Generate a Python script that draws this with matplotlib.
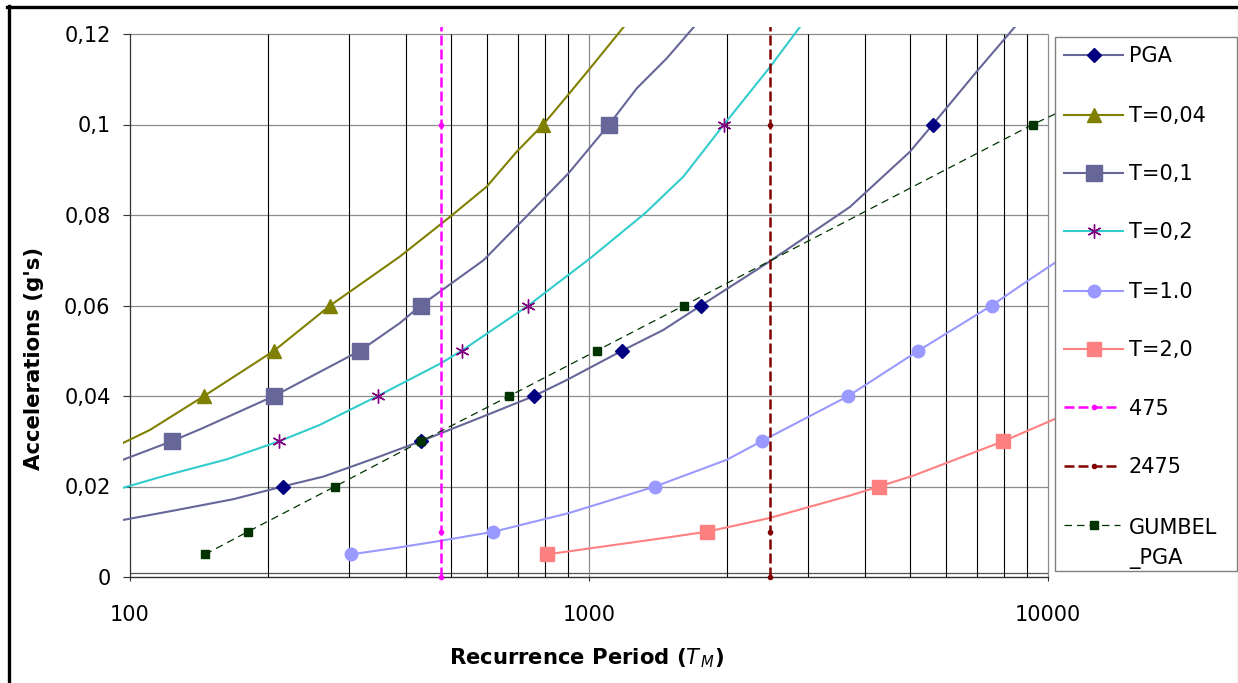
import matplotlib
matplotlib.use("Agg")
import matplotlib.pyplot as plt
from matplotlib.lines import Line2D
from matplotlib.patches import Rectangle
from matplotlib.ticker import FixedLocator, NullLocator

plt.rcParams['font.family'] = ['DejaVu Sans']
plt.rcParams['mathtext.fontset'] = 'dejavusans'

W, H = 1238, 683

# values (return period vs acceleration)
pga_x = [96.5, 126.4, 168, 215, 264, 345, 430, 599, 759, 893, 1180, 1452, 1754, 2438, 3704, 5004, 5610, 6993, 8472]
pga_y = [0.0126, 0.0148, 0.0172, 0.02, 0.0222, 0.0264, 0.03, 0.0358, 0.04, 0.0435, 0.05, 0.0546, 0.06, 0.0693,
         0.0818, 0.094, 0.1, 0.1117, 0.1216]
pga_marks = [3, 6, 8, 10, 12, 16]

t004_x = [96.5, 110.5, 145, 206, 273, 387, 498, 599, 696, 795, 893, 1005, 1191]
t004_y = [0.0296, 0.0325, 0.04, 0.05, 0.06, 0.0708, 0.0796, 0.0863, 0.094, 0.1, 0.1061, 0.1124, 0.1216]
t004_marks = [2, 3, 4, 9]

t01_x = [96.5, 123.3, 144, 206, 317, 387, 430, 589, 690, 902, 1106, 1271, 1476, 1694]
t01_y = [0.0259, 0.03, 0.0329, 0.04, 0.05, 0.0561, 0.06, 0.07, 0.0771, 0.0892, 0.1, 0.108, 0.1146, 0.1216]
t01_marks = [1, 3, 4, 6, 10]

t02_x = [96.5, 120.2, 162.4, 211.5, 259, 346.5, 475, 528, 737.6, 1005, 1325, 1606, 1968, 2466, 2883]
t02_y = [0.0197, 0.0225, 0.026, 0.03, 0.0336, 0.04, 0.0472, 0.05, 0.06, 0.0704, 0.0804, 0.0885, 0.1, 0.1124, 0.1216]
t02_marks = [3, 5, 7, 8, 12]

t10_x = [303, 387, 475, 619, 902, 1393, 1995, 2376, 3673, 5217, 7539, 8985, 10447]
t10_y = [0.005, 0.00656, 0.008, 0.01, 0.0141, 0.02, 0.0259, 0.03, 0.04, 0.05, 0.06, 0.0653, 0.0697]
t10_marks = [0, 3, 5, 7, 8, 9, 10]

t20_x = [811, 1428, 1805, 2466, 3704, 4283, 5089, 7990, 10447]
t20_y = [0.005, 0.0085, 0.01, 0.013, 0.018, 0.02, 0.0224, 0.03, 0.0351]
t20_marks = [0, 2, 5, 7]

rp475_x = [475, 475, 475, 475]
rp475_y = [0, 0.01, 0.1, 1.0]
rp2475_x = [2475, 2475, 2475, 2475]
rp2475_y = [0, 0.01, 0.1, 1.0]
rp_marks = [0, 1, 2]

gumbel_x = [145.7, 180.5, 279.6, 431, 670.6, 1039, 1611, 9261, 10447]
gumbel_y = [0.005, 0.01, 0.02, 0.03, 0.04, 0.05, 0.06, 0.1, 0.1025]
gumbel_marks = [0, 1, 2, 3, 4, 5, 6, 7]

y_ticks = [0, 0.02, 0.04, 0.06, 0.08, 0.1, 0.12]
y_tick_labels = ["0", "0,02", "0,04", "0,06", "0,08", "0,1", "0,12"]
x_ticks = [100, 1000, 10000]
x_tick_labels = ["100", "1000", "10000"]
x_minor = [200, 300, 400, 500, 600, 700, 800, 900, 2000, 3000, 4000, 5000, 6000, 7000, 8000, 9000]

styles = {
    "PGA": dict(color="#666699", lw=1.5, ls="-", marker="D", ms=7, mfc="#000080", mec="#000080", mew=1),
    "T=0,04": dict(color="#808000", lw=1.5, ls="-", marker="^", ms=10, mfc="#808000", mec="#808000", mew=1),
    "T=0,1": dict(color="#666699", lw=1.5, ls="-", marker="s", ms=12, mfc="#666699", mec="#666699", mew=1),
    "T=0,2": dict(color="#33CCCC", lw=1.5, ls="-", marker=(6, 2, 0), ms=10, mfc="#800080", mec="#800080", mew=1),
    "T=1.0": dict(color="#9999FF", lw=1.5, ls="-", marker="o", ms=9, mfc="#9999FF", mec="#9999FF", mew=1),
    "T=2,0": dict(color="#FF8080", lw=1.5, ls="-", marker="s", ms=9.5, mfc="#FF8080", mec="#FF8080", mew=1),
    "475": dict(color="#FF00FF", lw=1.8, ls=(0, (4, 1.6)), marker="o", ms=3, mfc="#FF00FF", mec="#FF00FF", mew=1),
    "2475": dict(color="#800000", lw=1.8, ls=(0, (4, 1.6)), marker="o", ms=3, mfc="#800000", mec="#800000", mew=1),
    "GUMBEL_PGA": dict(color="#003300", lw=0.9, ls=(0, (6, 4)), marker="s", ms=5.5, mfc="#003300", mec="#003300", mew=1),
}

series = [
    ("PGA", pga_x, pga_y, pga_marks),
    ("T=0,04", t004_x, t004_y, t004_marks),
    ("T=0,1", t01_x, t01_y, t01_marks),
    ("T=0,2", t02_x, t02_y, t02_marks),
    ("T=1.0", t10_x, t10_y, t10_marks),
    ("T=2,0", t20_x, t20_y, t20_marks),
    ("475", rp475_x, rp475_y, rp_marks),
    ("2475", rp2475_x, rp2475_y, rp_marks),
    ("GUMBEL_PGA", gumbel_x, gumbel_y, gumbel_marks),
]


def fx(px):
    return px / W


def fy(py):
    return 1 - py / H


fig = plt.figure(figsize=(W / 100, H / 100), dpi=100)
# plot area: x=100 at px 130, 10000 at px 1048; y=0 at px 577, 0.12 at px 34
left_px, right_px, top_px, bottom_px = 123, 1057, 27, 584
ax = fig.add_axes([fx(left_px), fy(bottom_px), (right_px - left_px) / W, (bottom_px - top_px) / H])
ax.set_xscale("log")
ax.set_xlim(10 ** (2 - 7 / 459), 10 ** (2 + 927 / 459))
ax.set_ylim(-7 / 4525, 550 / 4525)

# grid
ax.hlines(y_ticks, 100, 10000, colors="#8c8c8c", lw=0.9, zorder=1)
ax.hlines([0.00095], 100, 10000, colors="#555555", lw=0.9, zorder=1)
ax.vlines(x_minor, 0, 0.12, colors="#000000", lw=0.8, zorder=1)
ax.vlines(x_ticks[1:], 0, 0.12, colors="#8c8c8c", lw=0.9, zorder=1)

for label, xs, ys, marks in series:
    st = styles[label]
    ax.plot(xs, ys, color=st["color"], lw=st["lw"], ls=st["ls"], marker=st["marker"], ms=st["ms"],
            mfc=st["mfc"], mec=st["mec"], mew=st["mew"], markevery=marks, zorder=3)

for side in ["top", "right"]:
    ax.spines[side].set_visible(False)
ax.spines["left"].set_position(("data", 100))
ax.spines["left"].set_bounds(0, 0.12)
ax.spines["bottom"].set_position(("data", 0))
ax.spines["bottom"].set_bounds(100, 10000)
for side in ["left", "bottom"]:
    ax.spines[side].set_color("#333333")
    ax.spines[side].set_linewidth(0.9)

ax.yaxis.set_major_locator(FixedLocator(y_ticks))
ax.set_yticklabels(y_tick_labels)
ax.xaxis.set_major_locator(FixedLocator(x_ticks))
ax.xaxis.set_minor_locator(NullLocator())
ax.set_xticklabels(x_tick_labels)
ax.tick_params(axis="y", length=5, width=0.8, color="#333333", pad=9, labelsize=15)
ax.tick_params(axis="x", length=3, width=0.8, color="#333333", pad=17, labelsize=15)
ax.patch.set_alpha(0)

ax.set_xlabel(r"Recurrence Period ($T_{\,M}$)", fontsize=15.2, fontweight="bold")
ax.xaxis.set_label_coords((587 - left_px) / (right_px - left_px), (bottom_px - 646) / (bottom_px - top_px))
ax.set_ylabel("Accelerations (g's)", fontsize=15.3, fontweight="bold")
ax.yaxis.set_label_coords((44 - left_px) / (right_px - left_px), (bottom_px - 358.5) / (bottom_px - top_px))

# legend box drawn by hand to follow the spreadsheet layout
fig.add_artist(Rectangle((fx(1055), fy(571)), fx(1237) - fx(1055), fy(37) - fy(571),
                         transform=fig.transFigure, facecolor="white", edgecolor="#808080", lw=1, zorder=5))
rows_px = [55, 114.5, 172.5, 231, 290.5, 349, 407.5, 465.5, 524.5]
for (label, xs, ys, marks), ry in zip(series, rows_px):
    st = styles[label]
    x1 = 1123 if st["ls"] == "-" else 1120
    fig.add_artist(Line2D([fx(1064), fx(x1)], [fy(ry), fy(ry)], transform=fig.transFigure,
                          color=st["color"], lw=st["lw"], ls=st["ls"], zorder=6))
    fig.add_artist(Line2D([fx(1093.5)], [fy(ry)], transform=fig.transFigure, ls="none",
                          marker=st["marker"], ms=st["ms"], mfc=st["mfc"], mec=st["mec"], mew=st["mew"], zorder=7))
    if label == "GUMBEL_PGA":
        fig.text(fx(1129), fy(ry + 3), "GUMBEL", fontsize=15, va="center", ha="left", zorder=7)
        fig.text(fx(1129), fy(ry + 34), "_PGA", fontsize=15, va="center", ha="left", zorder=7)
    else:
        fig.text(fx(1129), fy(ry + 1.5), label, fontsize=15, va="center", ha="left", zorder=7)

# outer frame of the chart object
fig.add_artist(Line2D([fx(7), fx(W)], [fy(6.5), fy(6.5)], transform=fig.transFigure, color="black", lw=2.4, zorder=8))
fig.add_artist(Line2D([fx(9), fx(9)], [fy(5.5), fy(H)], transform=fig.transFigure, color="black", lw=2.4, zorder=8))
fig.add_artist(Line2D([fx(1237.5), fx(1237.5)], [fy(8), fy(H)], transform=fig.transFigure, color="#666666", lw=0.8, zorder=8))

fig.savefig("out.png", dpi=100)
